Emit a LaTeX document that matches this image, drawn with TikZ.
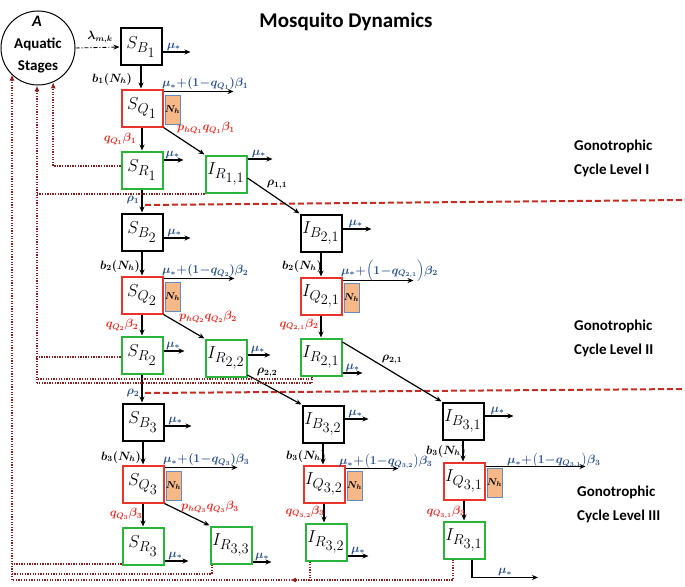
\documentclass[tikz,border=0pt]{standalone}
\usepackage{amsmath}
\usepackage{bm}
\usepackage[no-math]{fontspec}
\setmainfont{Carlito}
\usetikzlibrary{arrows.meta}
\definecolor{boxred}{RGB}{232,52,42}
\definecolor{boxgreen}{RGB}{42,180,60}
\definecolor{lblblue}{RGB}{40,80,140}
\definecolor{lblred}{RGB}{230,45,35}
\definecolor{dred}{RGB}{140,30,30}
\definecolor{dashred}{RGB}{195,45,35}
\definecolor{nhfill}{RGB}{246,184,134}
\definecolor{nhdraw}{RGB}{100,140,190}
\newcommand{\tightmath}{\medmuskip=0.5mu\thickmuskip=1mu\thinmuskip=0.5mu}
\newcommand{\bxl}[3]{$#1_{#2_{\scriptstyle #3}}$}
\tikzset{
 bx/.style={draw, line width=2pt, minimum width=41pt, minimum height=37pt, inner sep=0pt, fill=white, font=\fontsize{19}{19}\selectfont},
 bb/.style={bx, draw=black},
 bq/.style={bx, draw=boxred},
 br/.style={bx, draw=boxgreen},
 nhbox/.style={draw=nhdraw, fill=nhfill, line width=0.8pt, minimum width=13pt, minimum height=29pt, inner sep=0pt, anchor=north west, font=\fontsize{10}{10}\selectfont},
 arr/.style={line width=1.2pt, -{Stealth[length=6pt,width=5pt]}},
 lbl/.style={inner sep=1pt, font=\fontsize{12}{12}\selectfont\tightmath},
 mul/.style={lbl, text=lblblue},
 redl/.style={lbl, text=lblred},
 blkl/.style={lbl, text=black},
 dots/.style={draw=dred, line width=2pt, dash pattern=on 1.3pt off 1.3pt},
 dtip/.style={-{Latex[length=6pt,width=5pt]}},
 lvl/.style={draw=dashred, line width=2pt, dash pattern=on 6pt off 3pt},
 ttl/.style={font=\fontsize{15}{24}\selectfont\bfseries, align=left, anchor=north west, inner sep=0pt},
}
\begin{document}
\begin{tikzpicture}[x=1pt,y=-1pt]
\useasboundingbox (0,0) rectangle (685,586);
% title
\node[font=\fontsize{21}{21}\selectfont\bfseries] (title) at (346,22) {Mosquito Dynamics};
% aquatic circle
\node[circle, draw, line width=1pt, minimum size=74pt, inner sep=0pt] (A) at (38,48) {};
\node[font=\fontsize{16}{16}\selectfont\bfseries\itshape] (At) at (37,21) {A};
\node[font=\fontsize{15}{15}\selectfont\bfseries] (Aq) at (38,44) {Aquatic};
\node[font=\fontsize{15}{15}\selectfont\bfseries] (As) at (38,67) {Stages};
% level texts
\node[ttl] (g1) at (574,140) {Gonotrophic\\Cycle Level I};
\node[ttl] (g2) at (574,320) {Gonotrophic\\Cycle Level II};
\node[ttl] (g3) at (577,486) {Gonotrophic\\Cycle Level III};
% level separators
\coordinate (d1a) at (145,205); \coordinate (d1b) at (685,200);
\coordinate (d2a) at (145,393); \coordinate (d2b) at (685,389);
\draw[lvl] (d1a) -- (d1b);
\draw[lvl] (d2a) -- (d2b);
% boxes level 1
\node[bb] (SB1) at (141,47) {\bxl{S}{B}{1}};
\node[bq] (SQ1) at (142,108) {\bxl{S}{Q}{1}};
\node[br] (SR1) at (142,170) {\bxl{S}{R}{1}};
\node[br] (IR11) at (226,174) {\bxl{I}{R}{1,1}};
% level 2
\node[bb] (SB2) at (142,232) {\bxl{S}{B}{2}};
\node[bq] (SQ2) at (142,295) {\bxl{S}{Q}{2}};
\node[br] (SR2) at (142,355) {\bxl{S}{R}{2}};
\node[br] (IR22) at (226,358) {\bxl{I}{R}{2,2}};
\node[bb] (IB21) at (321,233) {\bxl{I}{B}{2,1}};
\node[bq] (IQ21) at (321,296) {\bxl{I}{Q}{2,1}};
\node[br] (IR21) at (321,357) {\bxl{I}{R}{2,1}};
% level 3
\node[bb] (SB3) at (143,422) {\bxl{S}{B}{3}};
\node[bq] (SQ3) at (143,484) {\bxl{S}{Q}{3}};
\node[br] (SR3) at (143,546) {\bxl{S}{R}{3}};
\node[br] (IR33) at (231,545) {\bxl{I}{R}{3,3}};
\node[bb] (IB32) at (323,424) {\bxl{I}{B}{3,2}};
\node[bq] (IQ32) at (324,484) {\bxl{I}{Q}{3,2}};
\node[br] (IR32) at (326,542) {\bxl{I}{R}{3,2}};
\node[bb] (IB31) at (463,421) {\bxl{I}{B}{3,1}};
\node[bq] (IQ31) at (464,481) {\bxl{I}{Q}{3,1}};
\node[br] (IR31) at (464,540) {\bxl{I}{R}{3,1}};
% Nh boxes
\node[nhbox] (NQ1) at ([xshift=1pt,yshift=-6pt]SQ1.north east) {$\bm{N_h}$};
\node[nhbox] (NQ2) at ([xshift=1pt,yshift=-6pt]SQ2.north east) {$\bm{N_h}$};
\node[nhbox] (NQ3) at ([xshift=1pt,yshift=-6pt]SQ3.north east) {$\bm{N_h}$};
\node[nhbox] (NQ21) at ([xshift=1pt,yshift=-6pt]IQ21.north east) {$\bm{N_h}$};
\node[nhbox] (NQ32) at ([xshift=1pt,yshift=-6pt]IQ32.north east) {$\bm{N_h}$};
\node[nhbox] (NQ31) at ([xshift=1pt,yshift=-6pt]IQ31.north east) {$\bm{N_h}$};
% recruitment
\draw[line width=0.9pt, dash pattern=on 4pt off 2pt on 1pt off 2pt, -{Stealth[length=6pt,width=5pt]}] (A.east) -- (SB1.west);
\node[blkl] (lam) at (100,37) {$\bm{\lambda_{m,k}}$};
% vertical arrows
\draw[arr] (SB1.south) -- (SB1.south |- SQ1.north);
\draw[arr] (SQ1.south) -- (SQ1.south |- SR1.north);
\draw[arr] (SR1.south) -- (SR1.south |- SB2.north);
\draw[arr] (SB2.south) -- (SB2.south |- SQ2.north);
\draw[arr] (SQ2.south) -- (SQ2.south |- SR2.north);
\draw[arr] (SR2.south) -- (SR2.south |- SB3.north);
\draw[arr] (SB3.south) -- (SB3.south |- SQ3.north);
\draw[arr] (SQ3.south) -- (SQ3.south |- SR3.north);
\draw[arr] (IB21.south) -- (IB21.south |- IQ21.north);
\draw[arr] (IQ21.south) -- (IQ21.south |- IR21.north);
\draw[arr] (IB32.south) -- (IB32.south |- IQ32.north);
\draw[arr] (IQ32.south) -- (IQ32.south |- IR32.north);
\draw[arr] (IB31.south) -- (IB31.south |- IQ31.north);
\draw[arr] (IQ31.south) -- (IQ31.south |- IR31.north);
% diagonal arrows
\draw[arr] (SQ1.south east) -- (IR11.north west);
\draw[arr] (SQ2.south east) -- (IR22.north west);
\draw[arr] (SQ3.south east) -- (IR33.north west);
\draw[arr] ([yshift=-4pt]IR11.east) -- (IB21.north west);
\draw[arr] ([yshift=-17pt]IR22.east) -- (IB32.north west);
\draw[arr] ([yshift=15pt]IR21.east) -- (IB31.north west);
% vertical labels
\node[blkl] (lb1) at (112,79) {$\bm{b_1(N_h)}$};
\node[blkl] (lb2) at (120,266) {$\bm{b_2(N_h)}$};
\node[blkl] (lb21) at (302,266) {$\bm{b_2(N_h)}$};
\node[blkl] (lb3) at (121,457) {$\bm{b_3(N_h)}$};
\node[blkl] (lb32) at (306,456) {$\bm{b_3(N_h)}$};
\node[blkl] (lb31) at (446,451) {$\bm{b_3(N_h)}$};
\node[redl] (lq1) at (120,139) {$\bm{q_{Q_1}\beta_1}$};
\node[redl] (lq2) at (122,325) {$\bm{q_{Q_2}\beta_2}$};
\node[redl] (lq21) at (299,325) {$\bm{q_{Q_{2,1}}\beta_2}$};
\node[redl] (lq3) at (126,514) {$\bm{q_{Q_3}\beta_3}$};
\node[redl] (lq32) at (305,512) {$\bm{q_{Q_{3,2}}\beta_3}$};
\node[redl] (lq31) at (446,512) {$\bm{q_{Q_{3,1}}\beta_3}$};
\node[redl] (lp1) at (206,128) {$\bm{p_{hQ_1}q_{Q_1}\beta_1}$};
\node[redl] (lp2) at (208,317) {$\bm{p_{hQ_2}q_{Q_2}\beta_2}$};
\node[redl] (lp3) at (210,507) {$\bm{p_{hQ_3}q_{Q_3}\beta_3}$};
\node[mul] (lr1) at (133,200) {$\bm{\rho_1}$};
\node[mul] (lr2) at (133,393) {$\bm{\rho_2}$};
\node[blkl] (lr11) at (277,185) {$\bm{\rho_{1,1}}$};
\node[blkl] (lr22) at (267,373) {$\bm{\rho_{2,2}}$};
\node[blkl] (lr21) at (392,360) {$\bm{\rho_{2,1}}$};
% mortality arrows
\draw[arr] ([yshift=-5pt]SB1.east) -- ++(28,0) node[mul, above, pos=0.4] (m1) {$\bm{\mu_*}$};
\draw[arr] ([yshift=10pt]SR1.east) -- ++(20,0) node[mul, above, pos=0.45] (m2) {$\bm{\mu_*}$};
\draw[arr] ([yshift=15pt]IR11.east) -- ++(25,0) node[mul, above, pos=0.45] (m3) {$\bm{\mu_*}$};
\draw[arr] ([yshift=-6pt]SB2.east) -- ++(27,0) node[mul, above, pos=0.4] (m4) {$\bm{\mu_*}$};
\draw[arr] ([yshift=4pt]SR2.east) -- ++(21,0) node[mul, above, pos=0.45] (m5) {$\bm{\mu_*}$};
\draw[arr] ([yshift=3pt]IR22.east) -- ++(23,0) node[mul, above, pos=0.45] (m6) {$\bm{\mu_*}$};
\draw[arr] ([yshift=4pt]IB21.east) -- ++(29,0) node[mul, above, pos=0.45] (m7) {$\bm{\mu_*}$};
\draw[arr] ([yshift=-16pt]IR21.east) -- ++(20,0) node[mul, above, pos=0.5] (m8) {$\bm{\mu_*}$};
\draw[arr] ([yshift=-4pt]SB3.east) -- ++(27,0) node[mul, above, pos=0.4] (m9) {$\bm{\mu_*}$};
\draw[arr] ([yshift=-15pt]SR3.east) -- ++(24,0) node[mul, above, pos=0.45] (m10) {$\bm{\mu_*}$};
\draw[arr] ([yshift=-17pt]IR33.east) -- ++(19,0) node[mul, above, pos=0.5] (m11) {$\bm{\mu_*}$};
\draw[arr] ([yshift=5pt]IB32.east) -- ++(24,0) node[mul, above, pos=0.45] (m12) {$\bm{\mu_*}$};
\draw[arr] ([yshift=-14pt]IR32.east) -- ++(21,0) node[mul, above, pos=0.5] (m13) {$\bm{\mu_*}$};
\draw[arr] ([yshift=5pt]IB31.east) -- ++(29,0) node[mul, above, pos=0.45] (m14) {$\bm{\mu_*}$};
\draw[arr] ([xshift=8pt]IR31.south) |- ++(66,18) node[mul, above, pos=0.75] (m15) {$\bm{\mu_*}$};
% Q exits
\draw[arr] ([yshift=-3pt]SQ1.north east) -- ++(70,0);
\draw[arr] ([yshift=-3pt]SQ2.north east) -- ++(71,0);
\draw[arr] ([yshift=-4pt]IQ21.north east) -- ++(71,0);
\draw[arr] ([yshift=-3pt]SQ3.north east) -- ++(73,0);
\draw[arr] ([yshift=-4pt]IQ32.north east) -- ++(53,0);
\draw[arr] ([yshift=-5pt]IQ31.north east) -- ++(100,0);
\node[mul, anchor=south west] (e1) at (161,91) {$\bm{\mu_* + (1-q_{Q_1})\beta_1}$};
\node[mul, anchor=south west] (e2) at (161,278) {$\bm{\mu_* + (1-q_{Q_2})\beta_2}$};
\node[mul, anchor=south west] (e21) at (340,283) {$\bm{\mu_* +}\Bigl(\bm{1-q_{Q_{2,1}}}\Bigr)\bm{\beta_2}$};
\node[mul, anchor=south west] (e3) at (162,467) {$\bm{\mu_* + (1-q_{Q_3})\beta_3}$};
\node[mul, anchor=south west] (e32) at (338,470) {$\bm{\mu_* +}\bigl(\bm{1-q_{Q_{3,2}}}\bigr)\bm{\beta_3}$};
\node[mul, anchor=south west] (e31) at (506,469) {$\bm{\mu_* +}\bigl(\bm{1-q_{Q_{3,1}}}\bigr)\bm{\beta_3}$};
% return (oviposition) paths
\draw[dots, dtip] ([yshift=4pt]SR1.west) -| (A.-66);
\coordinate (v2) at (37,383);
\coordinate (v2b) at (37,378.5);
\draw[dots, dtip] (v2) -- (v2 |- A.-92);
\draw[dots] (IR11.south west) -- (IR11.south west -| v2);
\draw[dots] ([yshift=-2pt]SR2.west) -- ([yshift=-2pt,xshift=-2pt]SR2.west -| v2);
\coordinate (c21) at ([xshift=-9pt]IR21.south);
\draw[dots] (c21) |- (v2);
\draw[dots] (c21 |- v2b) -- (v2b);
\coordinate (v3) at (12,580);
\coordinate (v3b) at (12,574);
\coordinate (m3c) at (290,580);
\draw[dots, dtip] (v3) -- (v3 |- A.-135);
\draw[dots] ([yshift=1.5pt]SR3.south west) -- ([yshift=1.5pt]SR3.south west -| v3);
\draw[dots] ([xshift=2pt]IR33.south west) |- (v3b);
\draw[dots, dtip] ([xshift=-11pt]IR31.south) |- (m3c);
\draw[dots] (m3c) -- (v3);
\draw[dots] ([xshift=-16pt]IR32.south) -- ([xshift=-16pt]IR32.south |- m3c);
\end{tikzpicture}
\end{document}
